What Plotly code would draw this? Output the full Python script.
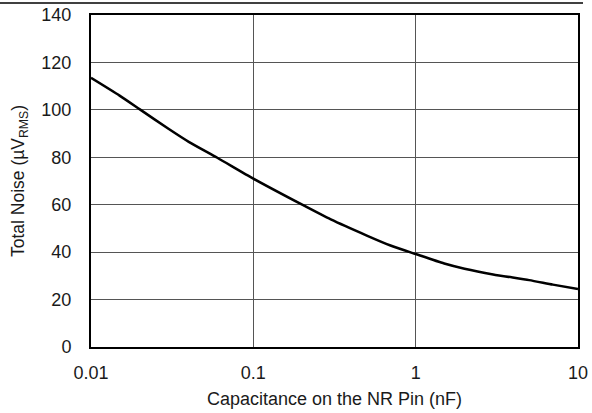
import plotly.graph_objects as go

cap_nf = [0.01, 0.015, 0.02, 0.03, 0.04, 0.06, 0.1, 0.2, 0.3, 0.5, 0.7, 1.0, 1.5, 2.0, 3.0, 5.0, 7.0, 10.0]
noise_uv = [113.5, 106.0, 100.2, 92.0, 86.5, 79.8, 71.0, 60.0, 53.8, 47.0, 42.8, 39.2, 35.2, 33.0, 30.6, 28.2, 26.3, 24.5]

x_ticks = [0.01, 0.1, 1, 10]
x_tick_labels = ["0.01", "0.1", "1", "10"]
y_ticks = [0, 20, 40, 60, 80, 100, 120, 140]

fig = go.Figure()
fig.add_trace(go.Scatter(x=cap_nf, y=noise_uv, mode="lines",
                         line=dict(color="black", width=2.5, shape="spline", smoothing=0.6),
                         showlegend=False, hoverinfo="skip"))

font_fam = "Liberation Sans, Arial, sans-serif"
fig.update_layout(
    width=592, height=413,
    margin=dict(l=91, r=14, t=15, b=66, autoexpand=False),
    paper_bgcolor="white", plot_bgcolor="white",
    font=dict(family=font_fam, size=18, color="#1a1a1a"),
    xaxis=dict(type="log", range=[-2, 1], tickvals=x_ticks, ticktext=x_tick_labels,
               showgrid=True, gridcolor="#555555", gridwidth=1,
               showline=True, linecolor="black", linewidth=2, mirror=True,
               ticks="", ticklabelstandoff=8, zeroline=False,
               title=dict(text="Capacitance on the NR Pin (nF)", font=dict(size=18), standoff=11)),
    yaxis=dict(range=[0, 140], tickvals=y_ticks,
               showgrid=True, gridcolor="#555555", gridwidth=1,
               showline=True, linecolor="black", linewidth=2, mirror=True,
               ticks="", ticklabelstandoff=14, zeroline=False,
               title=dict(text="Total Noise (µV<sub>RMS</sub>)", font=dict(size=17.5), standoff=12)),
)
fig.add_shape(type="line", xref="paper", yref="paper",
              x0=-91/487, x1=(583-91)/487, y0=(347-3)/332, y1=(347-3)/332,
              line=dict(color="black", width=1.5))
fig.write_html("out.html", config={"displayModeBar": False, "staticPlot": True},
               post_script="document.body.style.margin='0';document.body.style.padding='0';document.body.style.overflow='hidden';")
